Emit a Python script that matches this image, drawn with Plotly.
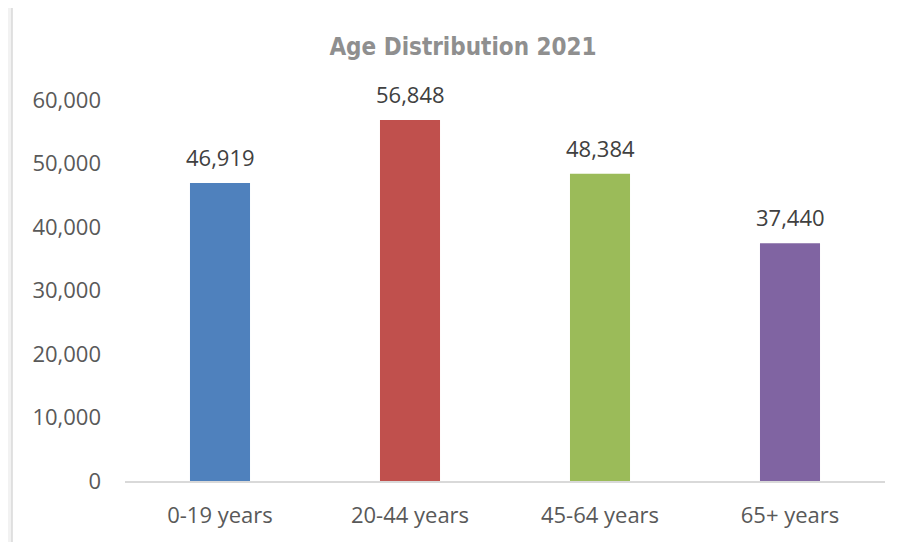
import plotly.graph_objects as go

# datos del grafico
categories = ["0-19 years", "20-44 years", "45-64 years", "65+ years"]
population = [46919, 56848, 48384, 37440]
bar_colors = ["#4f81bd", "#c0504d", "#9bbb59", "#8064a2"]
y_ticks = [0, 10000, 20000, 30000, 40000, 50000, 60000]

# la pagina tiene 8px de margen, la figura se ajusta a eso
W, H = 891, 534
L, R, T, B = 117, 14, 92, 61
pw = W - L - R
ph = H - T - B

fig = go.Figure()
fig.add_trace(go.Bar(x=categories, y=population, marker_color=bar_colors,
                     marker_line_width=0, hoverinfo="skip"))

# etiquetas de datos encima de cada barra
for c, v in zip(categories, population):
    fig.add_annotation(x=c, y=v, text=f"{v:,}", showarrow=False,
                       yanchor="bottom", yshift=9,
                       font=dict(family="Open Sans, Noto Sans", size=22, color="#404040"))

# area blanca del grafico con borde gris
fig.add_shape(type="rect", xref="paper", yref="paper", layer="below",
              x0=(4 - L) / pw, x1=(W + 20 - L) / pw,
              y0=-(B + 20) / ph, y1=(H - B + 1) / ph,
              fillcolor="white", line=dict(color="#d9d9d9", width=1.5))

fig.update_layout(
    width=W, height=H,
    margin=dict(l=L, r=R, t=T, b=B),
    paper_bgcolor="#f2f2f2",
    plot_bgcolor="white",
    bargap=0.684,
    showlegend=False,
    title=dict(text="<b>Age Distribution 2021</b>", x=455 / W, xanchor="center",
               xref="container", y=1 - 39 / H, yanchor="middle", yref="container",
               font=dict(family="DejaVu Sans Condensed", size=24, color="#8f8f8f")),
    font=dict(family="Open Sans, Noto Sans", size=22, color="#595959"),
)
fig.update_yaxes(range=[0, 60000], tickvals=y_ticks, tickformat=",",
                 showgrid=False, zeroline=False, showline=False,
                 ticklabelstandoff=23)
fig.update_xaxes(showline=True, linecolor="#d9d9d9", linewidth=1.5,
                 ticks="", ticklabelstandoff=14)

fig.write_html("out.html")
